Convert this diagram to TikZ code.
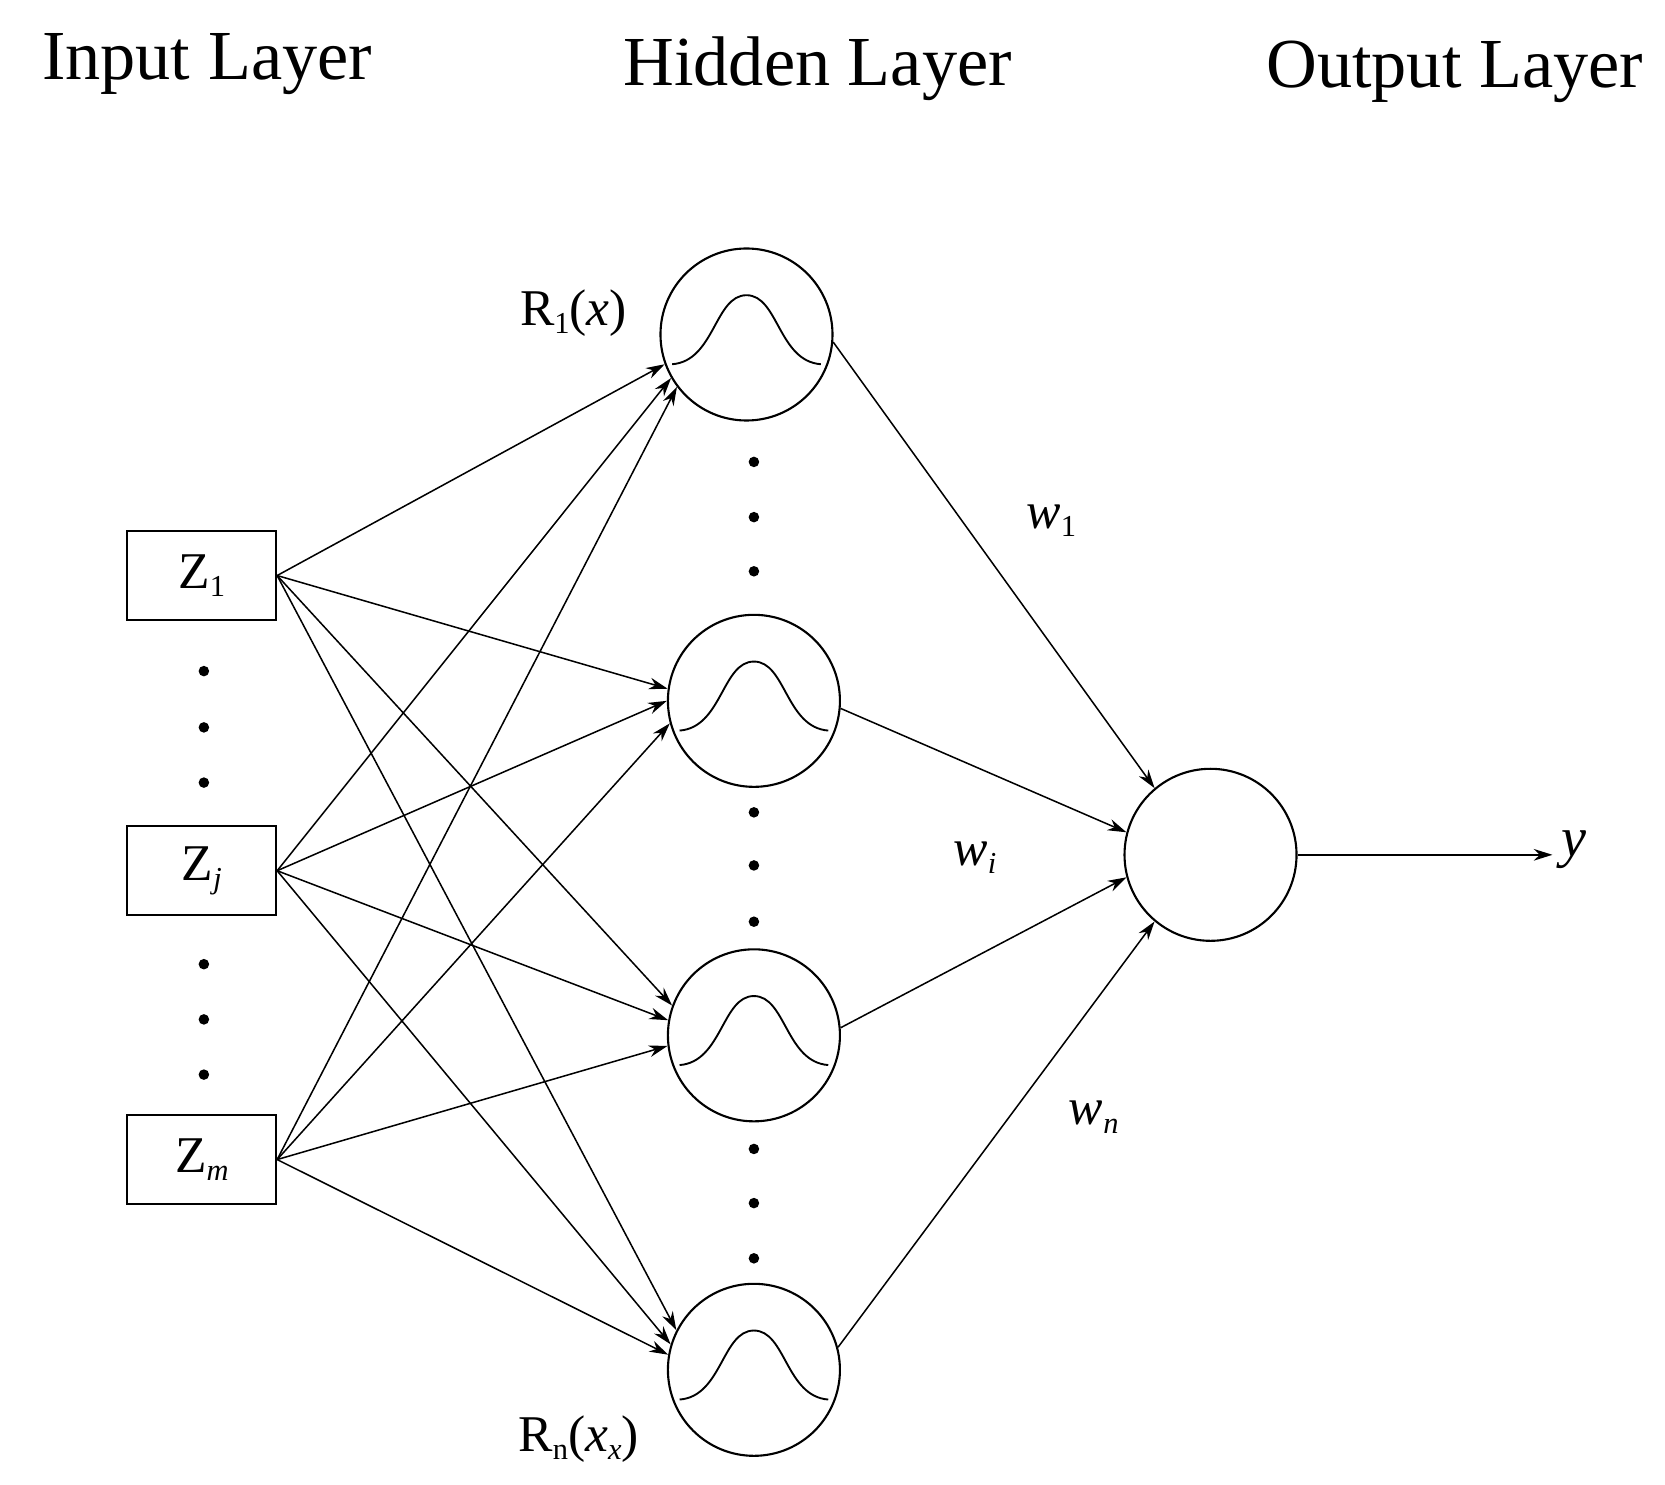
\documentclass[tikz,border=0pt]{standalone}
\usepackage{fontspec}
\setmainfont{Liberation Serif}
\usetikzlibrary{arrows.meta}
\newcommand{\sbs}[1]{\raisebox{-0.35ex}{\fontsize{26}{28}\selectfont #1}}
\begin{document}
\begin{tikzpicture}[x=0.3186mm,y=-0.3186mm,line width=1.8pt,
  title/.style={font=\fontsize{60}{64}\selectfont},
  lab/.style={font=\fontsize{44}{48}\selectfont},
  box/.style={draw,minimum width=140*0.3186mm,minimum height=84*0.3186mm,inner sep=0pt,font=\fontsize{44}{48}\selectfont},
  hid/.style={draw,circle,minimum size=162*0.3186mm,inner sep=0pt},
  arr/.style={-{Stealth[length=16pt,width=10pt]},line width=1.3pt},
  dot/.style={circle,fill,inner sep=0pt,minimum size=9pt}]
\useasboundingbox (0,0) rectangle (1568,1398);
\node[title] (t1) at (195,60) {Input Layer};
\node[title] (t2) at (770,65) {Hidden Layer};
\node[title] (t3) at (1370,68) {Output Layer};
\node[box] (z1) at (190,542) {Z\sbs{1}};
\node[box] (zj) at (190,820) {Z\sbs{\itshape j}};
\node[box] (zm) at (190,1092) {Z\sbs{\itshape m}};
\foreach \y [count=\i] in {632,685,737,908,960,1012} \node[dot] (di\i) at (192,\y) {};
\node[hid] (h1) at (703,315) {};
\node[hid] (h2) at (710,660) {};
\node[hid] (h3) at (710,975) {};
\node[hid] (h4) at (710,1290) {};
\foreach \y [count=\i] in {435,487,538,765,815,868,1082,1133,1185} \node[dot] (dh\i) at (710,\y) {};
\foreach \h in {h1,h2,h3,h4}
  \draw[line width=1.6pt] ([shift={(-70,28)}]\h.center) .. controls +(40,-3) and +(-30,0) .. ([shift={(0,-37)}]\h.center) .. controls +(30,0) and +(-40,-3) .. ([shift={(70,28)}]\h.center);
\node[hid] (o) at (1140,805) {};
\coordinate (yend) at (1462,805);
\node[lab,font=\fontsize{48}{52}\selectfont\itshape] (yl) at (1482,800) {y};
\foreach \h/\a/\b/\c in {h1/200/210/217,h2/172/180/195,h3/160/170/187,h4/153/163/170}{
  \draw[arr] (z1.east) -- (\h.\a);
  \draw[arr] (zj.east) -- (\h.\b);
  \draw[arr] (zm.east) -- (\h.\c);
}
\foreach \h/\s/\e in {h1/355/130,h2/355/165,h3/5/195,h4/15/230}
  \draw[arr] (\h.\s) -- (o.\e);
\draw[arr] (o.east) -- (yend);
\node[lab] (r1) at (540,295) {R\sbs{1}(\textit{x})};
\node[lab] (rn) at (545,1355) {R\sbs{n}(\textit{x}\sbs{\itshape x})};
\node[lab] (w1) at (990,490) {\textit{w}\sbs{1}};
\node[lab] (wi) at (918,808) {\textit{w}\sbs{\itshape i}};
\node[lab] (wn) at (1030,1052) {\textit{w}\sbs{\itshape n}};
\end{tikzpicture}
\end{document}
